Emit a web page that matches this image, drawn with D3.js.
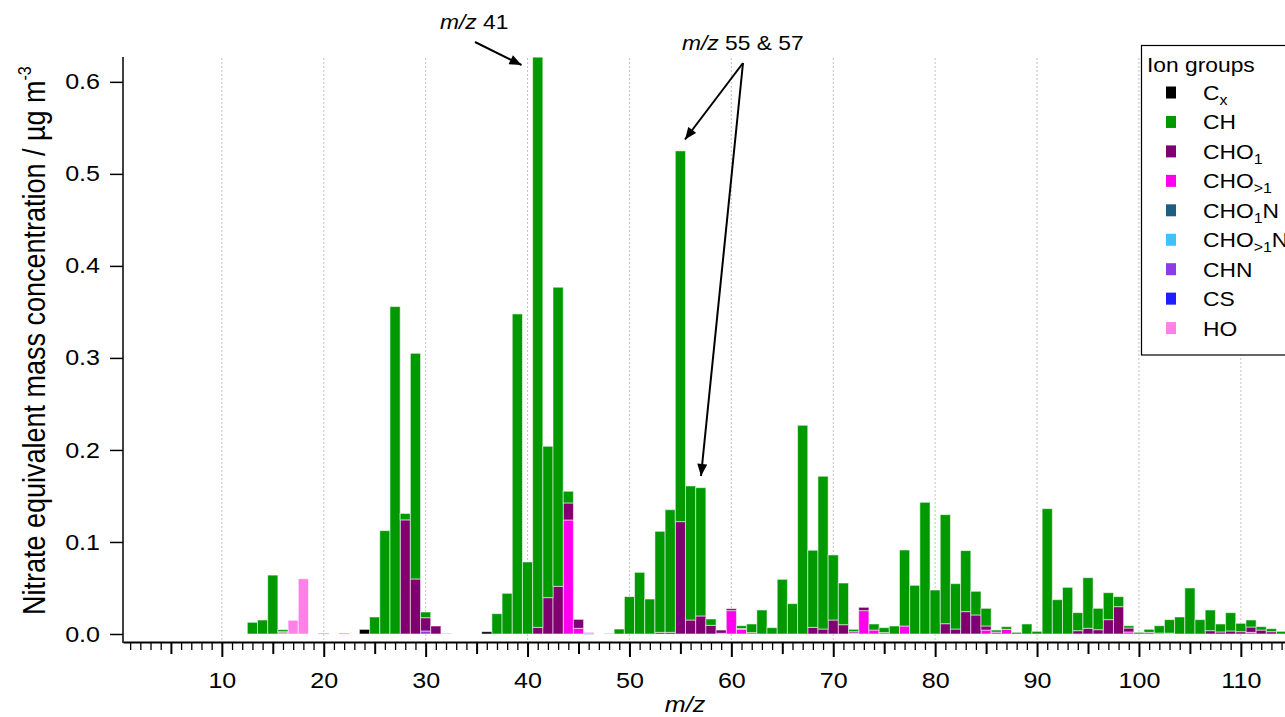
<!DOCTYPE html>
<html><head><meta charset="utf-8">
<script src="https://cdn.jsdelivr.net/npm/d3@7"></script>
<style>
body{margin:0;background:#fff;}
svg{display:block;font-family:Arial,"Liberation Sans",sans-serif;}
</style>
</head><body>
<svg id="c" width="1285" height="717"></svg>
<script>
// ---------- DATA ----------
const mz = [13,14,15,16,17,18,19,20,21,22,
  23,24,25,26,27,28,29,30,31,32,
  33,34,35,36,37,38,39,40,41,42,
  43,44,45,46,47,48,49,50,51,52,
  53,54,55,56,57,58,59,60,61,62,
  63,64,65,66,67,68,69,70,71,72,
  73,74,75,76,77,78,79,80,81,82,
  83,84,85,86,87,88,89,90,91,92,
  93,94,95,96,97,98,99,100,101,102,
  103,104,105,106,107,108,109,110,111,112,
  113,114];

const CH = [.0127,.0152,.064,.0022,0,0,0,0,0,0,
  0,0,.0185,.1123,.3558,.007,.2452,.0062,0,0,
  0,0,0,0,.0221,.0442,.3478,.0783,.6196,.1645,
  .325,.0127,0,0,0,0,.0054,.0406,.067,.038,
  .1098,.1333,.4029,.1457,.1394,.0069,0,0,.003,.0094,
  .0261,.0069,.0594,.033,.2268,.0838,.166,.0707,.0453,.0026,
  0,.0066,.0054,.0087,.0826,.0529,.1431,.0478,.1185,.0493,
  .0663,.0257,.0192,.0023,.0029,.0018,.0109,.0029,.1362,.0373,
  .0507,.0196,.055,.0232,.0293,.0109,.0025,.0018,.0033,.008,
  .0146,.0185,.05,.0156,.0225,.0087,.0199,.0091,.0076,.0037,
  .0033,.0029];

const CHO1 = [0,0,0,0,0,0,0,0,0,0,
  0,0,0,0,0,.124,.0598,.0144,.0087,0,
  0,0,0,0,0,0,0,0,.0072,.0395,
  .0518,.0185,.0097,0,0,0,0,0,0,0,
  .0018,.0018,.1221,.0152,.0196,.0094,.0035,.0021,.001,0,
  0,0,0,0,0,.0072,.0054,.0152,.0101,.0015,
  .0036,0,0,0,0,0,0,0,.0112,.0054,
  .0243,.0207,.0044,0,0,0,0,0,0,0,
  0,.0036,.0062,.0047,.0156,.0297,.0043,0,0,.001,
  0,0,0,0,.0036,.0022,.0033,.0025,.0058,.0043,
  .0025,0];

const CHOgt1 = [0,0,0,0,0,0,0,0,0,.0008,
  0,0,0,0,0,0,0,0,0,0,
  0,0,0,0,0,0,0,0,0,0,
  0,.1239,.0062,.001,0,0,0,0,0,0,
  0,0,0,0,0,0,.0008,.0254,.005,.0015,
  0,0,0,0,0,0,0,0,0,.001,
  .0254,.0043,.0015,0,.0087,0,0,0,0,0,
  0,0,.0043,.002,.0051,0,0,0,0,0,
  0,0,0,0,0,0,.0022,0,.0018,0,
  .001,0,0,0,0,0,0,0,.0018,0,
  0,0];

// sparse groups: [m/z, value]
const Cx      = [[24,.005],[36,.0025]];
const HO      = [[17,.0149],[18,.060]];
const CHN     = [[20,.0008],[30,.0033]];
const CHO1N   = [[46,.0005]];
const CHOgt1N = [];
const CS      = [];
const Other   = [[16,.0025],[32,.0008],[48,.0008]];

const yTicks = [0,0.1,0.2,0.3,0.4,0.5,0.6];
const xLabels = [10,20,30,40,50,60,70,80,90,100,110];

const groupKeys  = ["Cx","CH","CHO1","CHO>1","CHO1N","CHO>1N","CHN","CS","HO"];
const groupColors = ["#000000","#009900","#800070","#ff00ee","#1e5f80","#40c0ff","#8a3ce6","#1e1eff","#ff80e6"];
const otherColor = "#aaaaaa";

// ---------- BUILD ----------
const SX = 1.14;
const svg = d3.select("#c");

const sparse = (pairs) => { const m = new Map(pairs); return mz.map(v => m.get(v) || 0); };
const cols = {
  "Other": sparse(Other), "HO": sparse(HO), "CS": sparse(CS), "CHN": sparse(CHN),
  "CHO>1N": sparse(CHOgt1N), "CHO1N": sparse(CHO1N), "CHO>1": CHOgt1, "CHO1": CHO1,
  "CH": CH, "Cx": sparse(Cx)
};
const stackOrder = ["Other","HO","CS","CHN","CHO>1N","CHO1N","CHO>1","CHO1","CH","Cx"];
const rows = mz.map((m,i) => { const r = {mz:m}; stackOrder.forEach(k => r[k] = cols[k][i]); return r; });
const colorOf = k => k === "Other" ? otherColor : groupColors[groupKeys.indexOf(k)];

const x = d3.scaleLinear().domain([0.3, 116]).range([123, 123 + 115.7*10.19]);
const y = d3.scaleLinear().domain([0, 0.627]).range([634, 57]);
const axisY = 642;

// grid lines
svg.append("g").selectAll("line").data(xLabels.concat([120])).join("line")
  .attr("x1", d => x(d)).attr("x2", d => x(d))
  .attr("y1", 58).attr("y2", axisY)
  .attr("stroke", "#c4c4c4").attr("stroke-width", 1).attr("stroke-dasharray", "2,2");

// bars
const series = d3.stack().keys(stackOrder)(rows);
svg.append("g").selectAll("g").data(series).join("g")
  .attr("fill", s => colorOf(s.key))
  .selectAll("rect").data(s => s.filter(d => d[1] - d[0] > 0)).join("rect")
  .attr("x", d => x(d.data.mz - 0.5))
  .attr("width", d => x(d.data.mz + 0.5) - x(d.data.mz - 0.5))
  .attr("y", d => y(d[1]))
  .attr("height", d => Math.max(0.8, y(d[0]) - y(d[1])))
  .attr("stroke", "rgba(255,255,255,0.55)").attr("stroke-width", 1);

// x axis
const xAxis = d3.axisBottom(x).tickValues(d3.range(1, 117)).tickSize(8).tickSizeOuter(0)
  .tickFormat(d => d % 10 === 0 ? d : "");
const gx = svg.append("g").attr("transform", `translate(0,${axisY})`).call(xAxis);
gx.select(".domain").attr("stroke", "#000").attr("stroke-width", 2);
gx.selectAll(".tick line").attr("stroke", "#000")
  .attr("y2", d => d % 10 === 0 ? 15 : (d % 5 === 0 ? 12 : 8))
  .attr("stroke-width", d => d % 5 === 0 ? 2 : 1.3);
gx.selectAll(".tick text").attr("fill", "#000").attr("font-size", 22)
  .attr("y", 30).attr("transform", `scale(${SX},1)`);

// y axis
const yAxis = d3.axisLeft(y).tickValues(yTicks).tickSize(13).tickSizeOuter(0).tickFormat(d3.format(".1f"));
const gy = svg.append("g").attr("transform", "translate(123,0)").call(yAxis);
gy.select(".domain").remove();
gy.selectAll(".tick line").attr("stroke", "#000").attr("stroke-width", 1.5);
gy.selectAll(".tick text").attr("fill", "#000").attr("font-size", 22)
  .attr("x", -23 / SX).attr("transform", `scale(${SX},1)`);
svg.append("line").attr("x1", 123).attr("x2", 123).attr("y1", 57).attr("y2", axisY + 1)
  .attr("stroke", "#000").attr("stroke-width", 1.5);

// y title
const yt = svg.append("text").attr("transform", `translate(45,615) rotate(-90) scale(1,${SX})`)
  .attr("font-size", 27).attr("fill", "#000");
yt.append("tspan").text("Nitrate equivalent mass concentration / µg m");
yt.append("tspan").attr("font-size", 16).attr("dy", -12).text("-3");

// x title
svg.append("text").attr("transform", `translate(685,712) scale(${SX},1)`)
  .attr("text-anchor", "middle").attr("font-size", 22).attr("font-style", "italic").text("m/z");

// annotations
const defs = svg.append("defs");
defs.append("marker").attr("id", "ah").attr("markerUnits", "userSpaceOnUse")
  .attr("viewBox", "0 0 12 10").attr("refX", 12).attr("refY", 5)
  .attr("markerWidth", 13).attr("markerHeight", 10).attr("orient", "auto")
  .append("path").attr("d", "M0,0 L12,5 L0,10 Z").attr("fill", "#000");

function annot(tx, ty, num) {
  const t = svg.append("text").attr("transform", `translate(${tx},${ty}) scale(${SX},1)`)
    .attr("font-size", 20).attr("fill", "#000");
  t.append("tspan").attr("font-style", "italic").text("m/z");
  t.append("tspan").text(" " + num);
}
annot(440, 29, "41");
annot(682, 50, "55 & 57");
const arrows = [[475,42,521.5,65],[743,63,685,139.5],[743,63,701,476]];
svg.append("g").selectAll("line").data(arrows).join("line")
  .attr("x1", d => d[0]).attr("y1", d => d[1]).attr("x2", d => d[2]).attr("y2", d => d[3])
  .attr("stroke", "#000").attr("stroke-width", 2).attr("marker-end", "url(#ah)");

// legend
const lg = svg.append("g");
lg.append("rect").attr("x", 1141.5).attr("y", 45.5).attr("width", 200).attr("height", 309.5)
  .attr("fill", "#fff").attr("stroke", "#000").attr("stroke-width", 1.2);
lg.append("text").attr("transform", `translate(1147,72) scale(${SX},1)`)
  .attr("font-size", 20).text("Ion groups");
const labelParts = {
  "Cx": [["C",0],["x",1]], "CH": [["CH",0]], "CHO1": [["CHO",0],["1",1]],
  "CHO>1": [["CHO",0],[">1",1]], "CHO1N": [["CHO",0],["1",1],["N",0]],
  "CHO>1N": [["CHO",0],[">1",1],["N",0]], "CHN": [["CHN",0]], "CS": [["CS",0]], "HO": [["HO",0]]
};
groupKeys.forEach((k, i) => {
  const cy = 92.5 + i * 29.45;
  lg.append("rect").attr("x", 1166).attr("y", cy - 6).attr("width", 10).attr("height", 12)
    .attr("fill", groupColors[i]);
  const t = lg.append("text").attr("transform", `translate(1203,${cy + 7.5}) scale(${SX},1)`)
    .attr("font-size", 20).attr("fill", "#000");
  let sub = false;
  labelParts[k].forEach(([s, isSub]) => {
    const ts = t.append("tspan").text(s);
    if (isSub && !sub) { ts.attr("font-size", 14).attr("dy", 5); sub = true; }
    else if (!isSub && sub) { ts.attr("dy", -5); sub = false; }
    else if (isSub) ts.attr("font-size", 14);
  });
});
</script>
</body></html>
